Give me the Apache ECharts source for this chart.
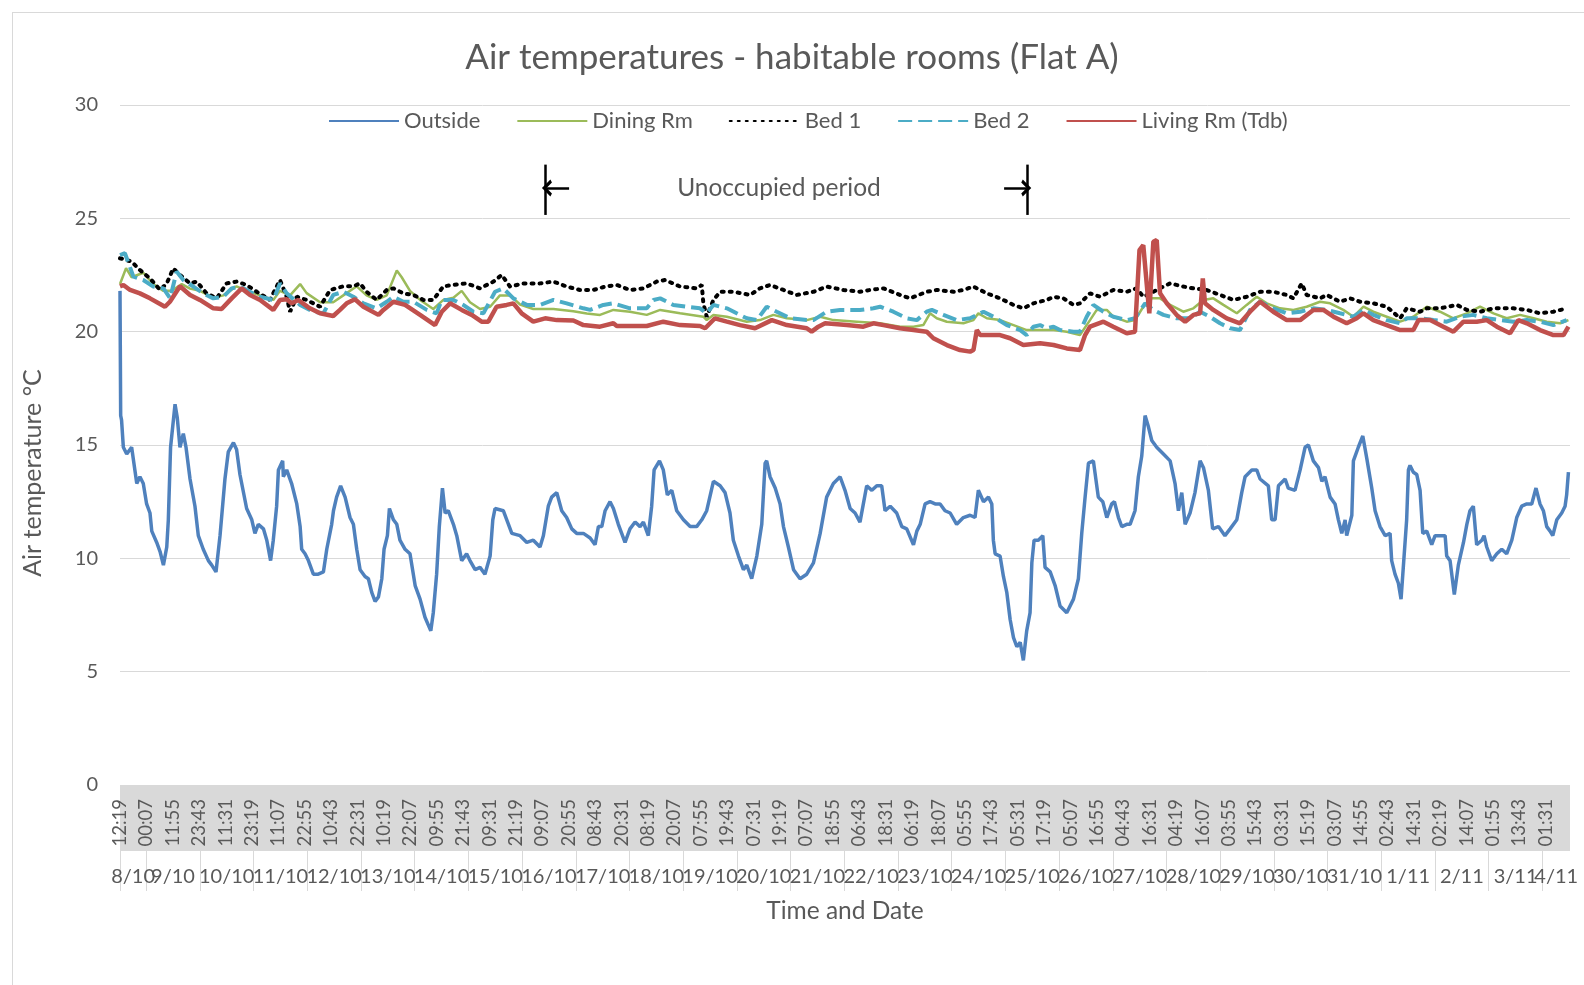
<!DOCTYPE html>
<html>
<head>
<meta charset="utf-8">
<title>Air temperatures - habitable rooms (Flat A)</title>
<script src="https://cdn.jsdelivr.net/npm/echarts@6/dist/echarts.min.js"></script>
<style>
  html, body { margin: 0; padding: 0; background: #fff; }
  #frame { position: absolute; left: 12px; top: 12px; width: 1600px; height: 1000px; border: 1px solid #d9d9d9; }
  #chart { position: absolute; left: 0; top: 0; width: 1584px; height: 985px; }
</style>
</head>
<body>
<div id="frame"></div>
<div id="chart"></div>
<script>
// hours since 8/10 12:19, temperature in degC
var outside = [
  [0,21.8],[0.3,16.3],[0.7,16.1],[1.5,14.9],[3.0,14.6],[5.2,14.9],[7.5,13.3],[8.9,13.6],[10.4,13.3],[11.9,12.4],
  [13.4,12.0],[14.2,11.2],[16.4,10.7],[17.9,10.3],[19.4,9.7],[20.9,10.5],[21.6,11.7],[22.6,14.9],[24.6,16.8],[25.6,16.2],
  [26.8,14.9],[28.3,15.5],[29.5,14.9],[31.3,13.5],[33.5,12.3],[35.0,11.0],[37.2,10.4],[39.5,9.9],[41.0,9.7],[42.9,9.4],
  [44.7,11.0],[46.9,13.5],[48.4,14.7],[50.7,15.1],[52.1,14.8],[53.6,13.7],[56.6,12.2],[58.9,11.7],[60.3,11.1],[61.8,11.5],
  [64.1,11.3],[65.6,10.8],[67.3,9.9],[68.5,10.8],[70.0,12.3],[70.8,13.9],[72.7,14.3],[73.0,13.6],[74.5,13.9],[76.7,13.3],
  [79.0,12.4],[80.5,11.4],[81.2,10.4],[82.7,10.2],[84.2,9.9],[86.4,9.3],[88.6,9.3],[90.9,9.4],[92.4,10.4],[94.6,11.5],
  [95.4,12.1],[96.8,12.7],[98.6,13.2],[100.6,12.7],[102.8,11.8],[104.3,11.5],[105.8,10.4],[107.3,9.5],[109.5,9.2],[111.0,9.1],
  [112.5,8.5],[114.0,8.1],[115.5,8.3],[117.0,9.1],[118.0,10.4],[119.5,11.0],[120.4,12.2],[122.2,11.7],[123.7,11.5],[125.1,10.8],
  [127.4,10.4],[129.6,10.2],[131.9,8.8],[134.1,8.2],[136.3,7.4],[138.9,6.8],[140.0,7.6],[141.5,9.3],[142.7,11.4],[144.1,13.1],
  [145.3,12.0],[146.7,12.1],[149.0,11.5],[150.5,11.0],[152.7,9.9],[154.9,10.2],[156.4,9.9],[158.7,9.5],[160.9,9.6],[163.1,9.3],
  [165.4,10.1],[166.6,11.7],[167.6,12.2],[171.3,12.1],[173.6,11.5],[175.1,11.1],[178.8,11.0],[181.8,10.7],[184.7,10.8],[187.7,10.5],
  [189.2,11.0],[191.4,12.3],[192.9,12.7],[195.2,12.9],[197.4,12.1],[199.6,11.8],[201.9,11.3],[204.1,11.1],[207.1,11.1],[210.1,10.9],
  [212.3,10.6],[213.8,11.4],[215.3,11.4],[216.8,12.1],[219.0,12.5],[220.5,12.2],[222.7,11.5],[225.7,10.7],[227.9,11.3],[230.2,11.6],
  [232.4,11.4],[233.9,11.6],[236.1,11.0],[237.6,12.3],[238.7,13.9],[241.1,14.3],[242.8,13.9],[244.6,12.8],[246.6,13.0],[248.8,12.1],
  [251.8,11.7],[254.8,11.4],[257.7,11.4],[260.0,11.7],[262.2,12.1],[265.2,13.4],[268.2,13.2],[270.4,12.9],[272.6,12.0],[274.1,10.8],
  [276.4,10.1],[278.6,9.5],[280.1,9.7],[282.3,9.1],[284.6,10.1],[286.8,11.5],[288.3,14.2],[289.0,14.3],[290.5,13.6],[292.8,13.1],
  [295.0,12.4],[296.5,11.4],[298.7,10.5],[301.0,9.5],[303.9,9.1],[306.9,9.3],[309.9,9.8],[312.9,11.1],[315.8,12.7],[318.8,13.3],
  [321.8,13.6],[324.0,13.0],[326.3,12.2],[328.5,12.0],[330.7,11.6],[332.2,12.4],[333.7,13.2],[336.0,13.0],[338.2,13.2],[340.4,13.2],
  [341.9,12.1],[344.2,12.3],[347.1,12.0],[349.4,11.4],[351.6,11.3],[354.6,10.6],[356.1,11.2],[357.6,11.5],[359.8,12.4],[362.0,12.5],
  [364.3,12.4],[366.5,12.4],[368.7,12.1],[371.0,12.0],[373.9,11.5],[376.9,11.8],[379.9,11.9],[382.1,11.8],[383.6,13.0],[385.9,12.5],
  [388.1,12.7],[389.6,12.4],[390.3,10.8],[391.1,10.2],[393.3,10.1],[394.8,9.2],[396.3,8.5],[397.8,7.3],[399.3,6.5],[400.8,6.1],
  [402.3,6.3],[403.7,5.5],[405.2,6.8],[406.7,7.6],[407.5,9.8],[408.5,10.8],[410.4,10.8],[412.4,11.0],[413.4,9.6],[415.7,9.4],
  [417.9,8.8],[420.1,7.9],[423.1,7.6],[426.1,8.2],[428.3,9.1],[429.8,11.1],[431.3,12.7],[432.8,14.2],[435.0,14.3],[437.2,12.7],
  [439.2,12.5],[441.0,11.8],[443.2,12.4],[444.4,12.5],[446.2,11.8],[447.7,11.4],[449.9,11.5],[451.4,11.5],[453.6,12.1],[455.1,13.6],
  [456.6,14.5],[458.1,16.3],[459.6,15.8],[461.1,15.2],[463.3,14.9],[466.3,14.6],[469.3,14.3],[471.5,13.3],[473.0,12.1],[474.5,12.9],
  [476.0,11.5],[478.2,12.0],[480.4,12.9],[482.7,14.3],[484.2,14.0],[486.4,13.0],[488.3,11.3],[490.9,11.4],[493.8,11.0],[496.1,11.3],
  [499.1,11.7],[501.3,12.9],[502.8,13.6],[505.8,13.9],[508.0,13.9],[509.5,13.5],[513.2,13.2],[514.7,11.7],[516.2,11.7],[517.7,13.2],
  [520.7,13.5],[522.1,13.1],[525.1,13.0],[527.4,13.9],[529.6,14.9],[531.1,15.0],[533.3,14.3],[535.6,14.0],[537.1,13.4],[538.5,13.6],
  [540.8,12.7],[543.0,12.4],[544.5,11.7],[546.0,11.1],[547.5,11.7],[548.2,11.0],[550.5,11.9],[551.2,14.3],[553.4,14.9],[555.4,15.4],
  [557.2,14.4],[559.4,13.1],[560.9,12.1],[563.1,11.4],[565.4,11.0],[567.6,11.1],[568.3,9.9],[569.8,9.3],[571.3,8.9],[572.5,8.2],
  [573.5,9.6],[575.0,11.7],[575.8,13.9],[576.5,14.1],[578.0,13.8],[579.5,13.7],[581.0,13.0],[582.2,11.1],[584.0,11.2],[586.2,10.6],
  [587.7,11.0],[589.9,11.0],[592.2,11.0],[592.9,10.1],[594.4,9.9],[596.3,8.4],[598.1,9.7],[600.4,10.7],[601.9,11.5],[603.3,12.1],
  [604.8,12.3],[606.3,10.6],[608.6,10.8],[609.6,11.0],[610.8,10.5],[613.0,9.9],[615.3,10.2],[617.5,10.4],[619.7,10.2],[622.0,10.8],
  [624.2,11.8],[626.4,12.3],[628.7,12.4],[630.9,12.4],[632.8,13.1],[634.6,12.4],[636.1,12.1],[637.6,11.4],[639.1,11.2],[640.3,11.0],
  [642.1,11.7],[644.3,12.0],[645.8,12.3],[646.5,12.8],[647.3,13.8]
];

var diningRm = [
  [0,22.1],[2.7,22.8],[5.2,22.4],[10.4,22.6],[14.9,22.1],[19.4,21.8],[23.1,21.8],[27.6,22.1],[31.3,21.9],[35.7,21.8],
  [41.7,21.5],[46.2,21.6],[52.1,22.0],[56.6,21.8],[62.6,21.6],[68.5,21.4],[71.5,21.8],[76.0,21.6],[80.5,22.1],[83.4,21.7],
  [89.4,21.3],[95.3,21.3],[99.8,21.6],[105.8,22.0],[110.2,21.6],[114.7,21.4],[119.2,21.6],[123.7,22.7],[125.9,22.4],[129.6,21.8],
  [134.1,21.4],[140.0,21.0],[144.5,21.4],[149.0,21.5],[152.7,21.8],[156.4,21.3],[160.9,21.0],[165.4,21.1],[169.8,21.6],[174.3,21.6],
  [178.8,21.2],[184.7,21.0],[193.7,21.0],[202.6,20.9],[208.6,20.8],[214.5,20.74],[220.5,20.96],[227.9,20.88],[235.4,20.74],[241.4,20.96],
  [250.3,20.81],[260.7,20.66],[262.2,20.51],[265.2,20.74],[271.2,20.66],[280.1,20.44],[286.0,20.51],[292.0,20.74],[298.0,20.59],[306.9,20.51],
  [312.9,20.66],[318.8,20.51],[329.3,20.44],[339.7,20.37],[348.6,20.22],[354.6,20.22],[359.0,20.29],[362.0,20.81],[365.0,20.59],[369.5,20.44],
  [376.9,20.37],[381.4,20.51],[383.6,20.81],[387.4,20.59],[393.3,20.51],[399.3,20.29],[405.2,20.07],[411.2,20.07],[417.2,20.07],[423.1,20.0],
  [429.0,19.85],[433.5,20.51],[436.5,20.96],[441.0,20.96],[443.9,20.66],[449.9,20.44],[453.6,20.51],[457.3,21.10],[461.1,21.47],[464.8,21.47],
  [469.3,21.18],[475.2,20.88],[479.7,21.03],[484.2,21.40],[488.6,21.47],[493.1,21.18],[499.1,20.81],[503.5,21.18],[508.0,21.54],[512.5,21.25],
  [518.4,21.03],[524.4,20.96],[530.3,21.10],[536.3,21.32],[540.8,21.25],[546.7,20.96],[551.2,20.66],[555.7,21.10],[560.1,20.88],[566.1,20.66],
  [572.1,20.44],[578.0,20.66],[584.0,21.10],[589.9,20.88],[595.9,20.59],[601.9,20.81],[607.8,21.10],[613.8,20.81],[619.7,20.59],[625.7,20.74],
  [631.7,20.59],[637.6,20.44],[643.6,20.37],[647.3,20.51]
];

var bed1 = [
  [0,23.24],[5.2,23.09],[8.9,22.72],[13.4,22.35],[17.9,21.84],[20.9,22.13],[23.8,22.79],[26.8,22.50],[31.3,22.13],[34.3,22.21],
  [38.7,21.69],[43.2,21.47],[47.7,22.13],[52.1,22.21],[56.6,22.06],[61.1,21.76],[67.0,21.40],[71.5,22.28],[74.5,21.54],[76.0,20.88],
  [79.0,21.54],[83.4,21.40],[89.4,21.10],[93.9,21.84],[99.8,22.0],[104.3,22.0],[107.3,22.13],[110.2,21.76],[114.7,21.40],[119.2,21.84],
  [122.2,21.91],[126.6,21.69],[131.1,21.62],[135.6,21.40],[140.0,21.40],[144.5,22.0],[149.0,22.06],[154.9,22.13],[160.9,21.91],[166.9,22.21],
  [170.6,22.50],[174.3,21.99],[180.3,22.13],[187.7,22.13],[193.7,22.21],[199.6,21.99],[205.6,21.84],[211.6,21.84],[216.8,21.99],[222.0,22.06],
  [227.9,21.84],[233.9,21.91],[239.9,22.21],[243.6,22.28],[250.3,21.99],[257.7,21.91],[260.0,22.06],[260.7,21.25],[262.2,20.66],[265.2,21.40],
  [268.2,21.76],[274.1,21.76],[281.6,21.62],[286.0,21.91],[290.5,22.06],[296.5,21.84],[302.4,21.62],[309.9,21.76],[315.8,21.99],[323.3,21.84],
  [330.7,21.76],[335.2,21.84],[341.2,21.91],[348.6,21.62],[353.1,21.47],[360.5,21.76],[365.0,21.84],[372.5,21.76],[376.9,21.84],[381.4,21.99],
  [387.4,21.69],[393.3,21.47],[399.3,21.18],[403.7,21.03],[408.2,21.25],[414.2,21.40],[417.2,21.54],[421.6,21.47],[426.1,21.18],[429.0,21.25],
  [433.5,21.69],[438.0,21.54],[443.9,21.84],[449.9,21.76],[454.4,21.91],[457.3,21.54],[461.8,21.76],[466.3,21.99],[469.3,22.13],[475.2,21.99],
  [479.7,21.91],[485.6,21.84],[491.6,21.62],[497.6,21.40],[503.5,21.54],[509.5,21.76],[515.4,21.76],[521.4,21.62],[524.4,21.47],[528.1,22.13],
  [530.3,21.62],[536.3,21.47],[539.3,21.62],[545.2,21.32],[549.7,21.47],[554.2,21.32],[560.1,21.25],[566.1,21.10],[572.1,20.59],[575.0,21.03],
  [581.0,20.88],[584.0,21.03],[589.9,21.03],[597.4,21.18],[601.9,20.96],[607.8,20.88],[613.8,21.03],[622.7,21.03],[628.7,20.96],[634.6,20.81],
  [640.6,20.88],[646.5,21.03]
];

var bed2 = [
  [0,23.38],[2.2,23.46],[6.0,22.43],[10.4,22.28],[14.9,21.99],[19.4,21.91],[22.4,21.47],[25.3,22.65],[28.3,22.28],[32.8,21.99],
  [37.2,21.69],[41.7,21.47],[46.2,21.54],[49.9,21.91],[53.6,21.99],[58.1,21.76],[62.6,21.54],[68.5,21.40],[71.5,22.13],[74.5,21.69],
  [80.5,21.18],[86.4,20.88],[90.9,20.81],[95.3,21.62],[99.8,21.76],[104.3,21.54],[108.8,21.25],[114.7,21.03],[119.2,21.32],[122.2,21.54],
  [126.6,21.32],[131.1,21.32],[137.1,20.96],[141.5,20.81],[143.8,21.40],[149.0,21.40],[153.4,21.18],[157.9,20.88],[162.4,20.81],[167.6,21.76],
  [171.3,21.91],[175.8,21.47],[181.8,21.18],[187.7,21.18],[193.7,21.40],[199.6,21.25],[207.1,21.03],[210.1,20.96],[216.0,21.18],[220.5,21.25],
  [227.9,21.03],[235.4,21.03],[238.4,21.40],[241.4,21.47],[247.3,21.18],[253.3,21.10],[259.2,21.03],[262.2,20.81],[265.2,21.18],[271.2,21.03],
  [275.6,20.81],[280.1,20.59],[284.6,20.51],[289.0,21.10],[293.5,20.88],[299.5,20.59],[306.9,20.51],[309.9,20.51],[315.8,20.88],[321.8,20.96],
  [330.7,20.96],[336.7,21.03],[339.7,21.10],[345.6,20.88],[351.6,20.59],[356.1,20.51],[360.5,20.88],[362.8,20.96],[368.0,20.74],[373.9,20.51],
  [379.9,20.59],[385.9,20.88],[390.3,20.66],[396.3,20.29],[402.3,20.07],[405.2,19.85],[408.2,20.22],[411.2,20.29],[414.2,20.15],[417.2,20.22],
  [420.1,20.07],[426.1,20.0],[429.0,20.0],[432.0,20.66],[435.0,21.18],[439.5,20.88],[443.9,20.66],[449.9,20.51],[453.6,20.59],[458.1,21.25],
  [461.8,20.96],[466.3,20.74],[472.2,20.59],[478.2,20.59],[482.7,20.88],[487.1,20.66],[491.6,20.37],[496.1,20.15],[500.5,20.07],[505.0,20.96],
  [509.5,21.32],[515.4,21.03],[521.4,20.81],[527.4,20.88],[533.3,21.03],[539.3,20.96],[545.2,20.81],[551.2,20.66],[555.7,20.96],[560.1,20.74],
  [566.1,20.51],[572.1,20.37],[575.0,20.59],[581.0,20.59],[587.0,20.51],[592.9,20.44],[598.9,20.66],[604.8,20.74],[610.8,20.59],[616.8,20.51],
  [622.7,20.44],[628.7,20.51],[634.6,20.44],[640.6,20.29],[646.5,20.51]
];

var livingRm = [
  [0,22.0],[1.5,22.06],[4.5,21.84],[8.9,21.69],[13.4,21.47],[20.1,21.10],[22.3,21.32],[26.8,22.0],[31.3,21.62],[35.7,21.40],
  [41.7,21.03],[45.4,21.0],[49.9,21.47],[54.4,21.91],[58.1,21.62],[62.6,21.40],[68.5,20.96],[71.5,21.40],[74.5,21.43],[76.7,21.25],
  [79.7,21.40],[84.2,21.07],[89.4,20.81],[95.3,20.69],[98.3,20.96],[101.3,21.25],[105.0,21.43],[108.8,21.10],[115.5,20.74],[117.7,20.96],
  [122.2,21.32],[127.4,21.18],[134.1,20.74],[140.8,20.29],[143.8,20.88],[147.5,21.25],[152.7,20.96],[157.2,20.74],[161.6,20.44],[164.6,20.44],
  [168.3,21.10],[172.8,21.18],[175.8,21.25],[179.5,20.81],[184.7,20.44],[190.0,20.59],[195.2,20.51],[202.6,20.49],[207.1,20.29],[214.5,20.22],
  [220.5,20.37],[222.0,20.25],[235.4,20.25],[242.8,20.44],[250.3,20.29],[259.2,20.25],[261.5,20.15],[265.9,20.59],[271.2,20.44],[277.1,20.29],
  [283.8,20.15],[291.3,20.51],[298.0,20.29],[306.9,20.15],[309.1,20.0],[312.1,20.22],[315.1,20.37],[324.8,20.29],[332.2,20.22],[336.7,20.37],
  [341.2,20.29],[348.6,20.15],[354.6,20.07],[360.5,20.0],[363.5,19.71],[369.5,19.41],[375.4,19.19],[379.9,19.12],[381.4,19.19],[382.9,20.07],
  [384.4,19.85],[393.3,19.85],[397.8,19.71],[403.7,19.41],[411.2,19.49],[417.2,19.41],[423.1,19.26],[429.0,19.19],[431.3,19.85],[433.5,20.22],
  [439.5,20.44],[443.9,20.22],[449.9,19.93],[453.6,20.0],[455.6,23.60],[457.3,23.82],[460.0,20.81],[461.8,23.97],[463.3,24.04],[464.8,21.69],
  [467.8,21.25],[472.2,20.74],[476.0,20.44],[479.7,20.74],[482.7,20.81],[483.9,22.35],[484.9,21.25],[488.6,20.96],[494.6,20.59],[500.5,20.37],
  [505.0,20.88],[509.5,21.32],[515.4,20.88],[521.4,20.51],[527.4,20.51],[533.3,20.96],[537.8,20.96],[542.3,20.66],[548.2,20.37],[552.7,20.59],
  [555.7,20.81],[560.1,20.51],[566.1,20.29],[572.1,20.07],[578.0,20.07],[580.3,20.51],[585.5,20.51],[591.4,20.22],[595.9,20.0],[600.4,20.44],
  [606.3,20.44],[610.8,20.51],[615.3,20.22],[621.2,19.93],[624.9,20.51],[628.7,20.37],[634.6,20.07],[640.6,19.85],[645.1,19.85],[647.3,20.22]
];

// axis labels
var timeLabels = ['12:19','00:07','11:55','23:43','11:31','23:19','11:07','22:55','10:43','22:31','10:19','22:07','09:55','21:43',
  '09:31','21:19','09:07','20:55','08:43','20:31','08:19','20:07','07:55','19:43','07:31','19:19','07:07','18:55','06:43','18:31',
  '06:19','18:07','05:55','17:43','05:31','17:19','05:07','16:55','04:43','16:31','04:19','16:07','03:55','15:43','03:31','15:19',
  '03:07','14:55','02:43','14:31','02:19','14:07','01:55','13:43','01:31'];
var dateLabels = ['8/10','9/10','10/10','11/10','12/10','13/10','14/10','15/10','16/10','17/10','18/10','19/10','20/10','21/10',
  '22/10','23/10','24/10','25/10','26/10','27/10','28/10','29/10','30/10','31/10','1/11','2/11','3/11','4/11'];

var labelStep = 11.8;       // 708 min between time labels
var firstMidnight = 11.683; // 12:19 -> 00:00
var spanEnd = 648;
var unoccupied = [190.2, 405.6]; // hours of the two markers

// tick / label positions
var timeTicks = timeLabels.map(function (t, i) { return i * labelStep; });
var dayBounds = [0];
for (var k = 0; k <= 26; k++) dayBounds.push(firstMidnight + 24 * k);
var dayCentres = [];
for (var d = 0; d < dateLabels.length; d++) {
  var a = dayBounds[d], b = d + 1 < dayBounds.length ? dayBounds[d + 1] : spanEnd;
  dayCentres.push((a + b) / 2);
}
// the two part-days at the ends go on their own axis so no label gets hidden
var innerCentres = dayCentres.slice(1, -1);
var endCentres = [dayCentres[0], dayCentres[dayCentres.length - 1]];

function dateFor(v) {
  var best = 0;
  for (var i = 1; i < dayCentres.length; i++) {
    if (Math.abs(dayCentres[i] - v) < Math.abs(dayCentres[best] - v)) best = i;
  }
  return dateLabels[best];
}

var font = 'Lato, "Noto Sans", sans-serif';
var txt = '#595959';

var myChart = echarts.init(document.getElementById('chart'));

var chevron = 'path://M10,0 L20,11 L16.5,13 L10,6 L3.5,13 L0,11 Z';

var dateLabelStyle = {
  margin: 16,
  hideOverlap: false,
  showMinLabel: true,
  showMaxLabel: true,
  fontFamily: font,
  fontSize: 20,
  color: txt,
  formatter: dateFor
};

var option = {
  animation: false,
  backgroundColor: 'transparent',
  title: {
    text: 'Air temperatures - habitable rooms (Flat A)',
    left: 'center',
    top: 35,
    textStyle: { fontFamily: font, fontSize: 35, fontWeight: 'normal', color: txt }
  },
  legend: {
    data: ['Outside', 'Dining Rm', 'Bed 1', 'Bed 2', 'Living Rm (Tdb)'],
    left: 323,
    top: 105,
    itemWidth: 70,
    itemHeight: 14,
    itemGap: 36,
    itemStyle: { opacity: 0 },
    textStyle: { fontFamily: font, fontSize: 22, color: txt }
  },
  grid: { left: 120, right: 14, top: 105, bottom: 200 },
  xAxis: [
    {
      type: 'value',
      min: 0,
      max: spanEnd,
      z: 10,
      axisLine: { show: false },
      axisTick: { show: false },
      splitLine: { show: false },
      axisLabel: {
        customValues: timeTicks,
        rotate: 90,
        margin: 14,
        hideOverlap: false,
        fontFamily: font,
        fontSize: 18.5,
        color: txt,
        formatter: function (v) {
          return timeLabels[Math.round(v / labelStep)];
        }
      }
    },
    {
      type: 'value',
      min: 0,
      max: spanEnd,
      position: 'bottom',
      offset: 66,
      z: 10,
      axisLine: { show: false },
      splitLine: { show: false },
      axisTick: {
        show: true,
        customValues: dayBounds,
        length: 40,
        lineStyle: { color: '#d9d9d9', width: 1 }
      },
      axisLabel: Object.assign({ customValues: innerCentres }, dateLabelStyle),
      name: 'Time and Date',
      nameLocation: 'middle',
      nameGap: 48,
      nameTextStyle: { fontFamily: font, fontSize: 24.5, color: txt }
    },
    {
      type: 'value',
      min: 0,
      max: spanEnd,
      position: 'bottom',
      offset: 66,
      z: 10,
      axisLine: { show: false },
      axisTick: { show: false },
      splitLine: { show: false },
      axisLabel: Object.assign({ customValues: endCentres }, dateLabelStyle)
    }
  ],
  yAxis: {
    type: 'value',
    min: 0,
    max: 30,
    interval: 5,
    axisLine: { show: false },
    axisTick: { show: false },
    axisLabel: { margin: 22, fontFamily: font, fontSize: 20, color: txt },
    splitLine: { lineStyle: { color: '#d9d9d9', width: 1 } }
  },
  graphic: [
    {
      // grey band behind the time labels
      type: 'rect',
      z: -1,
      shape: { x: 120, y: 785, width: 1450, height: 66 },
      style: { fill: '#d9d9d9' },
      silent: true
    },
    {
      type: 'text',
      x: 33,
      y: 473,
      rotation: Math.PI / 2,
      style: {
        text: 'Air temperature \u00b0C',
        fontFamily: font,
        fontSize: 25,
        fill: txt,
        textAlign: 'center',
        textVerticalAlign: 'middle'
      },
      silent: true
    }
  ],
  series: [
    {
      name: 'Outside',
      type: 'line',
      symbol: 'none',
      data: outside,
      lineStyle: { color: '#4f81bd', width: 3.5 },
      itemStyle: { color: '#4f81bd' },
      markLine: {
        silent: true,
        symbol: 'none',
        label: { show: false },
        lineStyle: { color: '#000', width: 2.5, type: 'solid' },
        data: [
          [{ coord: [unoccupied[0], 25.15] }, { coord: [unoccupied[0], 27.37] }],
          [{ coord: [unoccupied[1], 25.15] }, { coord: [unoccupied[1], 27.37] }],
          [{ coord: [unoccupied[0] + 10.5, 26.34], symbol: 'none' },
           { coord: [unoccupied[0] + 0.6, 26.34], symbol: chevron, symbolSize: [17, 10] }],
          [{ coord: [unoccupied[1] - 10.5, 26.34], symbol: 'none' },
           { coord: [unoccupied[1] - 0.6, 26.34], symbol: chevron, symbolSize: [17, 10] }]
        ]
      },
      markPoint: {
        silent: true,
        symbol: 'circle',
        symbolSize: 0,
        label: {
          show: true,
          position: 'inside',
          formatter: 'Unoccupied period',
          fontFamily: font,
          fontSize: 24.5,
          color: txt
        },
        data: [{ coord: [294.5, 26.34] }]
      }
    },
    {
      name: 'Dining Rm',
      type: 'line',
      symbol: 'none',
      data: diningRm,
      lineStyle: { color: '#9bbb59', width: 2.5 },
      itemStyle: { color: '#9bbb59' }
    },
    {
      name: 'Bed 1',
      type: 'line',
      symbol: 'none',
      data: bed1,
      lineStyle: { color: '#000000', width: 4, type: [2, 6], cap: 'round' },
      itemStyle: { color: '#000000' }
    },
    {
      name: 'Bed 2',
      type: 'line',
      symbol: 'none',
      data: bed2,
      lineStyle: { color: '#4bacc6', width: 4, type: [14, 6] },
      itemStyle: { color: '#4bacc6' }
    },
    {
      name: 'Living Rm (Tdb)',
      type: 'line',
      symbol: 'none',
      data: livingRm,
      lineStyle: { color: '#c0504d', width: 4.5 },
      itemStyle: { color: '#c0504d' }
    }
  ]
};

myChart.setOption(option);
window.addEventListener('resize', function () {
  myChart.resize();
});
</script>
</body>
</html>
